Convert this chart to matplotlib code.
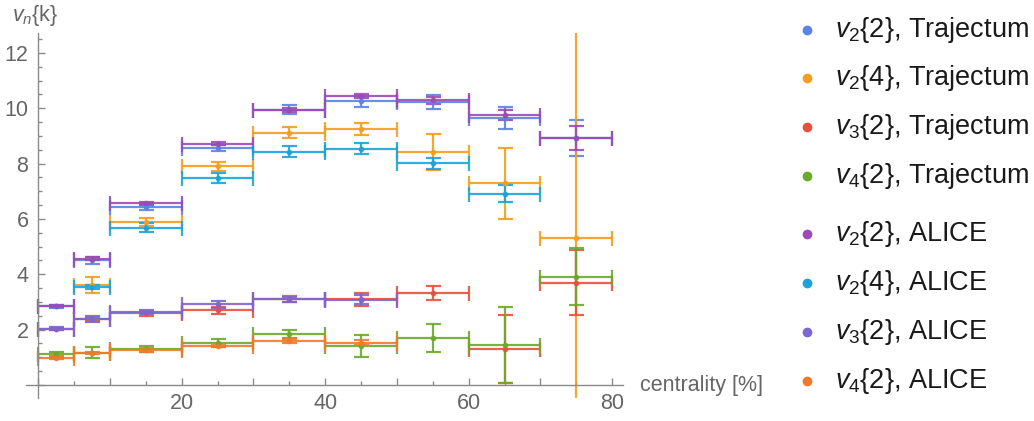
import matplotlib
matplotlib.use("Agg")
import matplotlib.pyplot as plt
from matplotlib.lines import Line2D
from matplotlib.ticker import MultipleLocator, FuncFormatter
import numpy as np

plt.rcParams['font.family'] = ['Liberation Sans', 'DejaVu Sans']
plt.rcParams['mathtext.fontset'] = 'custom'
plt.rcParams['mathtext.rm'] = 'Liberation Sans'
plt.rcParams['mathtext.it'] = 'Liberation Sans:italic'

nan = np.nan

# centrality bins [%]
bin_lo = [0, 5, 10, 20, 30, 40, 50, 60, 70]
bin_hi = [5, 10, 20, 30, 40, 50, 60, 70, 80]

# Trajectum
traj_v22 = [2.85, 4.51, 6.44, 8.57, 9.95, 10.25, 10.24, 9.64, 8.93]
traj_v22_err = [0.05, 0.13, 0.10, 0.10, 0.17, 0.19, 0.25, 0.39, 0.64]
traj_v24 = [nan, 3.61, 5.89, 7.90, 9.12, 9.25, 8.43, 7.29, 5.30]
traj_v24_err = [nan, 0.28, 0.13, 0.15, 0.21, 0.21, 0.65, 1.29, 8.0]
traj_v32 = [2.02, 2.40, 2.59, 2.70, 3.10, 3.10, 3.32, 1.30, 3.70]
traj_v32_err = [0.05, 0.10, 0.08, 0.12, 0.10, 0.24, 0.26, 1.23, 1.17]
traj_v42 = [1.11, 1.17, 1.30, 1.52, 1.85, 1.41, 1.70, 1.45, 3.92]
traj_v42_err = [0.10, 0.20, 0.10, 0.14, 0.15, 0.40, 0.52, 1.37, 1.04]

# ALICE
alice_v22 = [2.85, 4.57, 6.57, 8.72, 9.94, 10.45, 10.29, 9.76, 8.92]
alice_v22_err = [0.04, 0.06, 0.06, 0.06, 0.07, 0.08, 0.13, 0.18, 0.43]
alice_v24 = [nan, 3.55, 5.69, 7.49, 8.43, 8.54, 8.01, 6.91, nan]
alice_v24_err = [nan, 0.08, 0.15, 0.18, 0.20, 0.21, 0.19, 0.30, nan]
alice_v32 = [2.03, 2.37, 2.65, 2.92, 3.09, 3.08, nan, nan, nan]
alice_v32_err = [0.06, 0.08, 0.07, 0.12, 0.08, 0.17, nan, nan, nan]
alice_v42 = [0.99, 1.16, 1.26, 1.42, 1.59, 1.53, nan, nan, nan]
alice_v42_err = [0.05, 0.05, 0.06, 0.06, 0.07, 0.10, nan, nan, nan]

series = [
    (traj_v22, traj_v22_err, '#5b83e6', r'$v_2${2}, Trajectum'),
    (traj_v24, traj_v24_err, '#f59d1c', r'$v_2${4}, Trajectum'),
    (traj_v32, traj_v32_err, '#e8503d', r'$v_3${2}, Trajectum'),
    (traj_v42, traj_v42_err, '#6aaa2a', r'$v_4${2}, Trajectum'),
    (alice_v22, alice_v22_err, '#9b4bb5', r'$v_2${2}, ALICE'),
    (alice_v24, alice_v24_err, '#1aa3dc', r'$v_2${4}, ALICE'),
    (alice_v32, alice_v32_err, '#7a66d4', r'$v_3${2}, ALICE'),
    (alice_v42, alice_v42_err, '#f07a2c', r'$v_4${2}, ALICE'),
]

W, H = 1034, 421
fig = plt.figure(figsize=(W / 100, H / 100), dpi=100)
ax = fig.add_axes([26 / W, 23 / H, 597 / W, 365 / H])

lo = np.array(bin_lo, float)
hi = np.array(bin_hi, float)
xc = (lo + hi) / 2
xw = (hi - lo) / 2

for vals, errs, col, lab in series:
    v = np.array(vals, float)
    e = np.array(errs, float)
    m = ~np.isnan(v)
    ax.errorbar(xc[m], v[m], xerr=xw[m], yerr=e[m], fmt='o', ms=3, color=col,
                ecolor=col, elinewidth=1.6, capsize=5.4, capthick=1.6, alpha=0.9)

ax.set_xlim(-1.7, 81.5)
ax.set_ylim(-0.47, 12.72)

gray = '#8a8a8a'
for s in ['top', 'right']:
    ax.spines[s].set_visible(False)
ax.spines['left'].set_position(('data', 0))
ax.spines['bottom'].set_position(('data', 0))
for s in ['left', 'bottom']:
    ax.spines[s].set_color(gray)
    ax.spines[s].set_linewidth(1.0)

ax.xaxis.set_major_locator(MultipleLocator(10))
ax.xaxis.set_minor_locator(MultipleLocator(5))
ax.yaxis.set_major_locator(MultipleLocator(2))
ax.yaxis.set_minor_locator(MultipleLocator(0.5))
ax.xaxis.set_major_formatter(FuncFormatter(lambda x, p: '%d' % x if x > 0 and int(round(x)) % 20 == 0 else ''))
ax.yaxis.set_major_formatter(FuncFormatter(lambda y, p: '%d' % y if y > 0 else ''))
ax.tick_params(which='both', direction='in', color=gray, labelcolor='#666666', labelsize=15.5)
ax.tick_params(which='major', length=5, width=1.0)
ax.tick_params(which='minor', length=3, width=1.0)
ax.tick_params(axis='x', pad=6)
ax.tick_params(axis='y', pad=7)

fig.text(640 / W, 1 - 385 / H, 'centrality [%]', ha='left', va='center',
         fontsize=15.5, color='#666666')
fig.text(12 / W, 1 - 15 / H, r'$v_n${k}', ha='left', va='center',
         fontsize=15.5, color='#666666')

# legend
leg_y = [30, 78.3, 126.7, 175.7, 234.3, 283.3, 331.7, 380.7]
for (vals, errs, col, lab), yy in zip(series, leg_y):
    fig.add_artist(Line2D([807.3 / W], [1 - yy / H], marker='o', ms=6, color=col,
                          linestyle='none', transform=fig.transFigure))
    fig.text(835 / W, 1 - yy / H, lab, ha='left', va='center', fontsize=19.5, color='#1a1a1a')

fig.savefig('out.png', dpi=100)
